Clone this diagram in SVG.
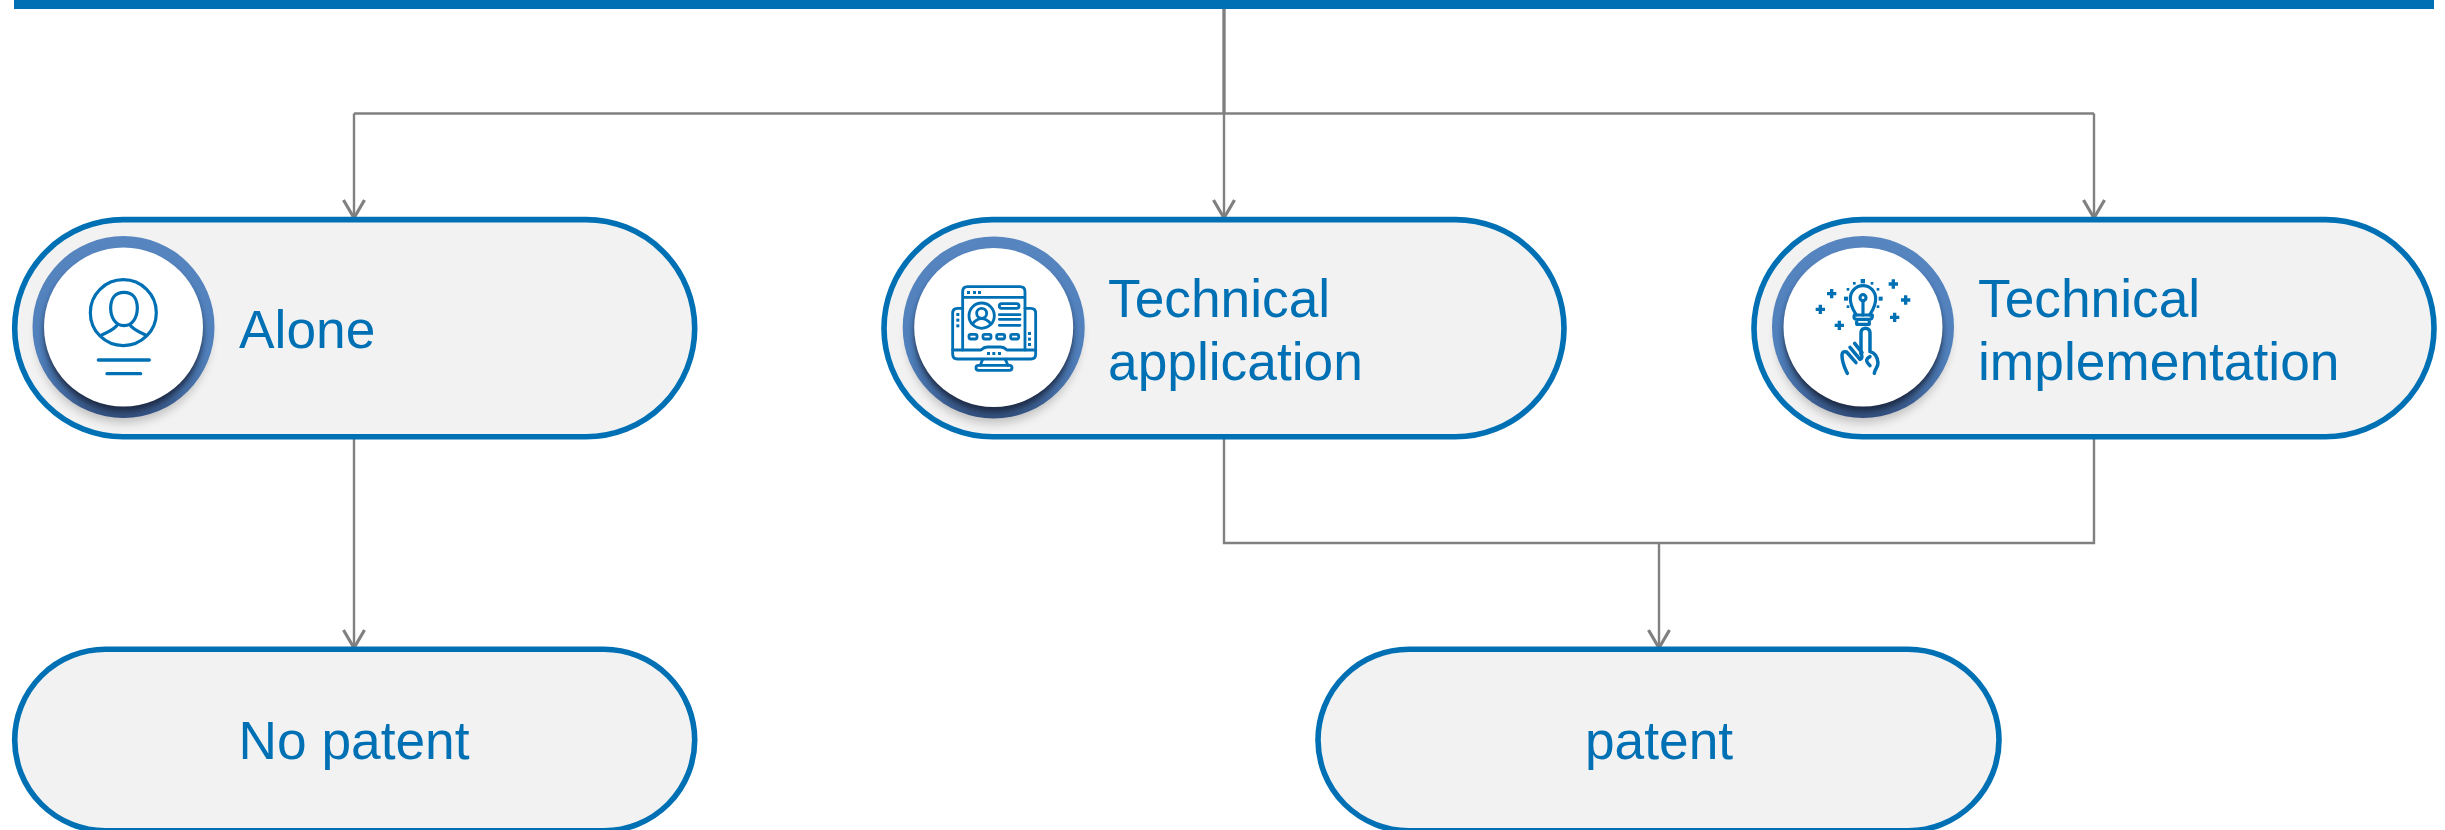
<svg xmlns="http://www.w3.org/2000/svg" width="2445" height="830" viewBox="0 0 2445 830">
<style>
.pill{fill:#f2f2f2;stroke:#0070b5;stroke-width:5.6}
.lbl{font-family:"Liberation Sans",Arial,sans-serif;font-size:53.3px;fill:#0070b5}
.mid{text-anchor:middle}
.conn{fill:none;stroke:#808080;stroke-width:2.4}
.trunk{stroke-width:3.4}
.head{stroke-width:3.2;stroke-linejoin:round;stroke-linecap:butt}
.ic{fill:none;stroke:#0070b5;stroke-width:9.500;stroke-linecap:round;stroke-linejoin:round}
.thin{stroke-width:8.500}
.icf{fill:#0070b5}
.plus{stroke-width:10;stroke-linecap:butt}
</style>
<defs>
<linearGradient id="ring" x1="0" y1="0" x2="0" y2="1">
<stop offset="0" stop-color="#5685c0"/><stop offset="0.65" stop-color="#5080bb"/><stop offset="0.85" stop-color="#466ea5"/><stop offset="1" stop-color="#34507e"/>
</linearGradient>
<filter id="blur8" x="-30%" y="-30%" width="160%" height="160%"><feGaussianBlur stdDeviation="5"/></filter>
<filter id="blur4" x="-30%" y="-30%" width="160%" height="160%"><feGaussianBlur stdDeviation="3"/></filter>
<clipPath id="ringclip"><circle cx="0" cy="0" r="91"/></clipPath>
<g id="badge">
<circle cx="0" cy="9" r="87" fill="#000" opacity="0.2" filter="url(#blur8)"/>
<circle cx="0" cy="0" r="91" fill="url(#ring)"/>
<g clip-path="url(#ringclip)"><circle cx="0" cy="6" r="79" fill="#1c2a45" filter="url(#blur4)"/></g>
<circle cx="0" cy="0" r="79.500" fill="#fff"/>
</g>
</defs>
<rect id="top-bar" x="14" y="0" width="2420" height="9" fill="#0070b5"/>
<g id="connectors">
<path class="conn trunk" d="M1224 9V113.500"/>
<path class="conn" d="M354 113.500H2094"/>
<path class="conn" d="M354 113.500V218M1224 113.500V218M2094 113.500V218"/>
<path class="conn" d="M354 437V648"/>
<path class="conn" d="M1224 438V543H2094V438"/>
<path class="conn" d="M1659 543V648"/>
<path class="conn head" d="M343.500 200 354 218 364.500 200M1213.500 200 1224 218 1234.500 200M2083.500 200 2094 218 2104.500 200M343.500 630 354 648 364.500 630M1648.500 630 1659 648 1669.500 630"/>
</g>
<g id="node-alone">
<rect class="pill" x="14.700" y="219.600" width="680" height="217.200" rx="108.600"/>
<use href="#badge" x="123.500" y="327"/>
<g transform="translate(0,200) scale(0.3333)">
<circle class="ic" cx="370" cy="338" r="99"/>
<path class="ic" d="M372 277C345 277 332 297 332 325C332 350 345 377 372 377C399 377 412 350 412 325C412 297 399 277 372 277Z"/>
<path class="ic" d="M350 378C340 388 325 397 305 405M392 378C402 388 417 397 437 405"/>
<path class="ic" d="M295 480H448M321 521H422" style="stroke-width:10"/>
</g>
<text class="lbl" x="239" y="348">Alone</text>
</g>
<g id="node-application">
<rect class="pill" x="884" y="219.600" width="680" height="217.200" rx="108.600"/>
<use href="#badge" x="993.700" y="327.500"/>
<g transform="translate(880,200) scale(0.3333)" class="ic thin">
<path d="M248 450V275Q248 260 263 260H420Q435 260 435 275V450M248 292H435"/>
<path d="M248 325H232Q218 325 218 340V462Q218 477 232 477H453Q467 477 467 462V340Q467 325 453 325H435"/>
<path d="M218 450H303Q312 441 322 441H362Q372 441 381 450H467"/>
<path d="M308 478 301 496M376 478 384 496"/>
<rect x="288" y="496" width="108" height="15" rx="7.500"/>
<circle cx="305" cy="347" r="38"/>
<circle cx="305" cy="340" r="15"/>
<path d="M277 372Q290 356 305 356Q320 356 333 372"/>
<rect x="358" y="311" width="59" height="14" rx="7"/>
<path d="M358 344H420M358 358H420M358 376H420"/>
<rect x="267" y="403" width="24" height="14" rx="5"/>
<rect x="309" y="403" width="24" height="14" rx="5"/>
<rect x="350" y="403" width="24" height="14" rx="5"/>
<rect x="392" y="403" width="24" height="14" rx="5"/>
<g class="icf" stroke="none" style="stroke:none">
<rect x="261" y="273" width="9" height="9"/><rect x="279" y="273" width="9" height="9"/><rect x="294" y="273" width="9" height="9"/>
<rect x="229" y="339" width="9" height="9"/><rect x="229" y="356" width="9" height="9"/><rect x="229" y="373" width="9" height="9"/>
<rect x="444" y="396" width="9" height="9"/><rect x="444" y="413" width="9" height="9"/><rect x="444" y="429" width="9" height="9"/>
<rect x="321" y="456" width="9" height="9"/><rect x="337" y="456" width="9" height="9"/><rect x="354" y="456" width="9" height="9"/>
</g>
</g>
<text class="lbl"><tspan x="1108" y="316.700">Technical</tspan><tspan x="1108" y="380">application</tspan></text>
</g>
<g id="node-implementation">
<rect class="pill" x="1754" y="219.600" width="680" height="217.200" rx="108.600"/>
<use href="#badge" x="1863" y="327"/>
<g transform="translate(1750,200) scale(0.3333)">
<path class="ic" d="M319 345C310 330 301 318 301 296C301 274 318 257 339 257C360 257 377 274 377 296C377 318 368 330 359 345"/>
<circle class="ic" cx="339" cy="293" r="9"/>
<path class="ic" d="M339 303V345"/>
<path class="ic" d="M313 345H367Q369 358 358 358H320Q309 358 313 345ZM320 358V373H358V358"/>
<path class="ic" style="stroke-width:10.500" d="M333 462V398C333 380 360 380 360 398V455C374 458 382 470 384 488C385 500 374 508 373 520"/>
<path class="ic" style="stroke-width:10.500" d="M292 520C285 505 276 490 276 465Q277 452 290 456L318 488M300 442 330 478Q340 475 333 460M314 430 336 458M360 470C350 475 344 482 360 497"/>
<g class="icf">
<rect x="332" y="237" width="13" height="13"/><rect x="282" y="290" width="12" height="12"/><rect x="386" y="290" width="12" height="12"/>
<rect x="309" y="246" width="8" height="8"/><rect x="362" y="246" width="8" height="8"/><rect x="290" y="264" width="8" height="8"/><rect x="380" y="264" width="8" height="8"/><rect x="290" y="316" width="8" height="8"/><rect x="380" y="316" width="8" height="8"/>
</g>
<path class="ic plus" d="M416 252H444M430 238V266M453 300H481M467 286V314M420 352H448M434 338V366M231 281H259M245 267V295M197 328H225M211 314V342M254 376H282M268 362V390"/>
</g>
<text class="lbl"><tspan x="1978" y="316.700">Technical</tspan><tspan x="1978" y="380">implementation</tspan></text>
</g>
<g id="node-no-patent">
<rect class="pill" x="14.700" y="649.300" width="680" height="181.400" rx="90.700"/>
<text class="lbl mid" x="354" y="759">No patent</text>
</g>
<g id="node-patent">
<rect class="pill" x="1318" y="649.300" width="681" height="181.400" rx="90.700"/>
<text class="lbl mid" x="1659" y="759">patent</text>
</g>
</svg>
